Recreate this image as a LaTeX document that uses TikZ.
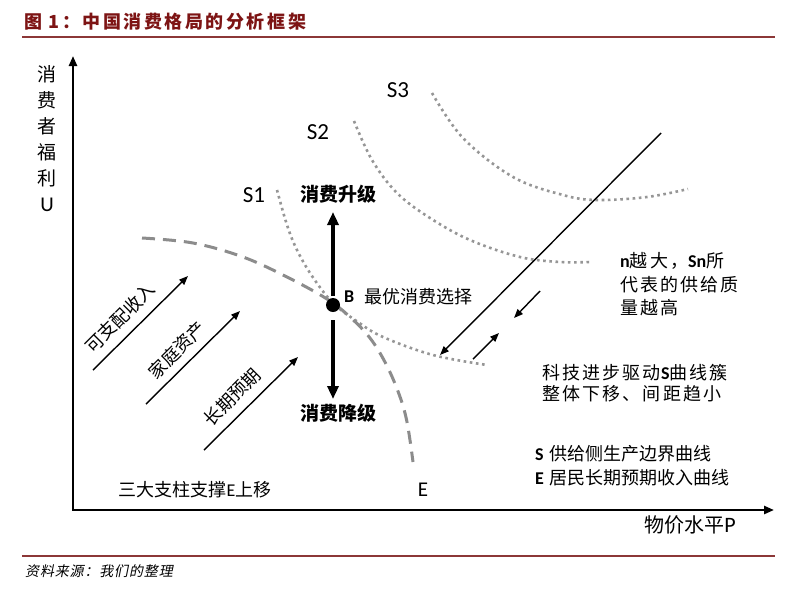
\documentclass[tikz,border=0pt]{standalone}
\usepackage{fontspec}
\setmainfont{Noto Sans CJK SC}
\newfontfamily\lat{Carlito}
\newfontfamily\cjksp[LetterSpace=12]{Noto Sans CJK SC}
\newfontfamily\cjkit[FakeSlant=0.2,LetterSpace=6]{Noto Sans CJK SC}
\newfontfamily\titlefont[LetterSpace=14]{Noto Sans CJK SC}
\usetikzlibrary{arrows.meta}
\definecolor{darkred}{RGB}{125,20,20}
\definecolor{rulered}{RGB}{140,55,55}
\definecolor{dotgray}{RGB}{150,150,150}
\definecolor{dashgray}{RGB}{140,140,140}
\begin{document}
\begin{tikzpicture}[x=1pt,y=-1pt,
  lab/.style={inner sep=0pt, font=\fontsize{19}{22}\selectfont},
  splab/.style={inner sep=0pt, anchor=base west, font=\cjksp\fontsize{18}{22}\selectfont},
  slab/.style={inner sep=0pt, font=\lat\fontsize{23}{26}\selectfont},
  sdot/.style={draw=dotgray, line width=2.6pt, dash pattern=on 2.6pt off 3.6pt},
  edash/.style={draw=dashgray, line width=3pt, dash pattern=on 13pt off 8pt},
  thinarrow/.style={line width=1.4pt, -{Triangle[length=9pt,width=7pt]}},
  thickarrow/.style={line width=3.8pt, -{Triangle[length=13pt,width=11pt]}},
  axisline/.style={line width=2.4pt, {Triangle[length=10pt,width=8pt]}-{Triangle[length=10pt,width=8pt]}}]
\fill[white] (0,0) rectangle (810,595);
\useasboundingbox (0,0) rectangle (810,595);

% title and rules
\node[anchor=west, inner sep=0pt, text=darkred, font=\titlefont\bfseries\fontsize{18}{20}\selectfont] (title) at (24,22) {图 1：中国消费格局的分析框架};
\draw[rulered, line width=2pt] (22,37) -- (775,37);
\draw[rulered, line width=2pt] (22,556) -- (775,556);
\node[anchor=west, inner sep=0pt, font=\cjkit\fontsize{14}{16}\selectfont] (source) at (25,571) {资料来源：我们的整理};

% axes
\coordinate (ytop) at (73,56);
\coordinate (O) at (73,510);
\coordinate (xend) at (774,510);
\draw[axisline] (ytop) -- (O) -- (xend);
\node[lab, align=center, font=\fontsize{19}{26}\selectfont] (ylab) at (47,139) {消\\费\\者\\福\\利\\{\lat\fontsize{21}{26}\selectfont U}};
\node[lab, font=\fontsize{20}{22}\selectfont] (xlab) at (690,525) {物价水平{\lat\fontsize{22}{22}\selectfont P}};

% S curves
\draw[sdot] plot[smooth, tension=0.6] coordinates {(277,190) (287,225) (297,250) (312,276) (333,303) (358,322) (383,337) (433,355) (487,365)};
\draw[sdot] plot[smooth, tension=0.6] coordinates {(354,121) (372,160) (397,193) (430,218) (470,240) (520,257) (560,262) (590,262)};
\draw[sdot] plot[smooth, tension=0.6] coordinates {(432,93) (463,138) (513,177) (563,195) (597,200) (647,197) (688,189)};
\node[slab] (s1) at (254,195) {S1};
\node[slab] (s2) at (318,132) {S2};
\node[slab] (s3) at (398,90) {S3};

% E curve
\draw[edash] plot[smooth, tension=0.6] coordinates {(142,238) (193,243) (243,257) (287,277) (327,299) (350,317) (370,338) (386,364) (399,394) (407,422) (413,462)};
\node[slab, font=\lat\fontsize{21}{24}\selectfont] (elab) at (423,490) {E};

% point B and vertical arrows
\node[circle, fill=black, minimum size=14pt, inner sep=0pt] (B) at (333,305) {};
\coordinate (up) at (333,212);
\coordinate (down) at (333,399);
\draw[thickarrow, shorten <=2pt] (B) -- (up);
\draw[thickarrow, shorten <=8pt] (B) -- (down);
\node[lab, font=\fontsize{19}{22}\selectfont\bfseries] (upl) at (338,194) {消费升级};
\node[lab, font=\fontsize{19}{22}\selectfont\bfseries] (downl) at (338,413) {消费降级};
\node[inner sep=0pt, anchor=west, font=\lat\bfseries\fontsize{18}{20}\selectfont] (Bl) at (344,297) {B};
\node[lab, anchor=west, font=\fontsize{18}{22}\selectfont] (bopt) at (364,297) {最优消费选择};

% diagonal line and small arrows
\coordinate (d1) at (661,133);
\coordinate (d2) at (440,355);
\draw[thinarrow] (d1) -- (d2);
\coordinate (a1s) at (540,291);
\coordinate (a1e) at (514,318);
\draw[thinarrow] (a1s) -- (a1e);
\coordinate (a2s) at (473,359);
\coordinate (a2e) at (499,333);
\draw[thinarrow] (a2s) -- (a2e);

% three pillars
\coordinate (p1s) at (93,370);
\coordinate (p1e) at (188,276);
\coordinate (p2s) at (146,404);
\coordinate (p2e) at (240,311);
\coordinate (p3s) at (204,450);
\coordinate (p3e) at (298,357);
\draw[thinarrow] (p1s) -- (p1e);
\draw[thinarrow] (p2s) -- (p2e);
\draw[thinarrow] (p3s) -- (p3e);
\node[lab, rotate=45, font=\fontsize{18}{22}\selectfont] (t1) at (120,318) {可支配收入};
\node[lab, rotate=45, font=\fontsize{18}{22}\selectfont] (t2) at (177,350) {家庭资产};
\node[lab, rotate=45, font=\fontsize{18}{22}\selectfont] (t3) at (232,397) {长期预期};
\node[lab, font=\fontsize{18}{22}\selectfont] (pillar) at (195,490) {三大支柱支撑{\lat E}上移};

% right texts
\node[splab] (n1) at (620,267) {{\lat\bfseries n}越大，{\lat\bfseries Sn}所};
\node[splab] (n2) at (620,291) {代表的供给质};
\node[splab] (n3) at (620,314) {量越高};
\node[splab] (k1) at (542,379) {科技进步驱动{\lat\bfseries S}曲线簇};
\node[splab] (k2) at (542,400) {整体下移、间距趋小};
\node[splab, font=\fontsize{18}{22}\selectfont] (l1) at (535,460) {{\lat\bfseries S}\hspace{6pt}供给侧生产边界曲线};
\node[splab, font=\fontsize{18}{22}\selectfont] (l2) at (535,484) {{\lat\bfseries E}\hspace{6pt}居民长期预期收入曲线};
\end{tikzpicture}
\end{document}
